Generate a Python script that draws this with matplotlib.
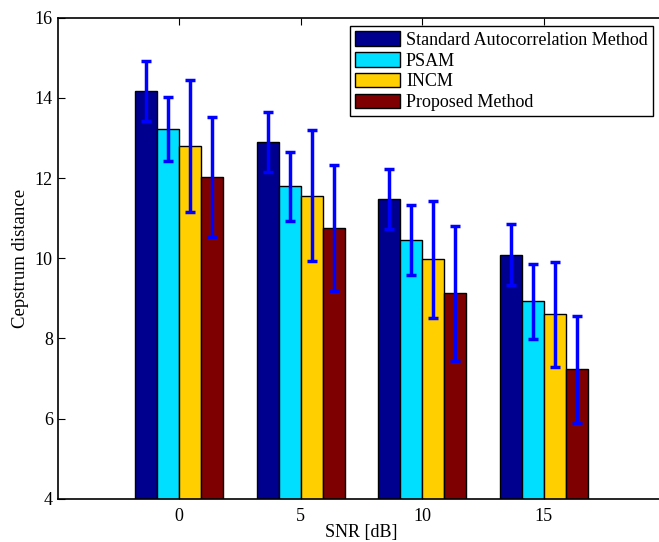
import numpy as np
import matplotlib
matplotlib.use('Agg')
import matplotlib.pyplot as plt

plt.rcParams['font.family'] = ['Liberation Serif', 'DejaVu Serif']

# SNR levels and mean cepstrum distance per method
snr_labels = ['0', '5', '10', '15']
methods = ['Standard Autocorrelation Method', 'PSAM', 'INCM', 'Proposed Method']

standard_mean = [14.17, 12.90, 11.48, 10.09]
psam_mean = [13.23, 11.79, 10.45, 8.92]
incm_mean = [12.80, 11.56, 9.97, 8.60]
proposed_mean = [12.02, 10.75, 9.12, 7.23]

# half-length of the error bars
standard_err = [0.74, 0.74, 0.74, 0.76]
psam_err = [0.80, 0.87, 0.88, 0.93]
incm_err = [1.65, 1.63, 1.45, 1.31]
proposed_err = [1.50, 1.57, 1.68, 1.33]

means = [standard_mean, psam_mean, incm_mean, proposed_mean]
errs = [standard_err, psam_err, incm_err, proposed_err]
colors = ['#00008F', '#00DFFF', '#FFCF00', '#7F0000']

fig = plt.figure(figsize=(6.59, 5.42), dpi=100)
# axis box runs past the right border of the image (no right spine visible)
ax = fig.add_axes([0.0876, 0.0799, 0.922, 0.8875])

x = np.arange(1, len(snr_labels) + 1)
n = len(methods)
group_w = n / (n + 1.5)
bar_w = group_w / n

for i in range(n):
    xpos = x - group_w / 2 + bar_w * (i + 0.5)
    ax.bar(xpos, means[i], width=bar_w, color=colors[i], edgecolor='black',
           linewidth=1.0, label=methods[i], zorder=2)
    ax.errorbar(xpos, means[i], yerr=errs[i], fmt='none', ecolor='#0000FF',
                elinewidth=2.5, capsize=3.5, capthick=2.5, zorder=3)

ax.set_xlim(0, 5)
ax.set_ylim(4, 16)
ax.set_xticks(x)
ax.set_xticklabels(snr_labels)
ax.set_yticks([4, 6, 8, 10, 12, 14, 16])
ax.tick_params(direction='in', length=5, width=0.8, labelsize=13, top=True,
               right=False)
ax.tick_params(axis='x', pad=6.5)
ax.tick_params(axis='y', pad=3.5)
for s in ax.spines.values():
    s.set_linewidth(1.2)

ax.set_xlabel('SNR [dB]', fontsize=13, labelpad=-0.5)
ax.set_ylabel('Cepstrum distance', fontsize=13.5, labelpad=4)

leg = ax.legend(loc='upper right', bbox_to_anchor=(0.991, 0.952),
                bbox_transform=fig.transFigure, borderaxespad=0,
                fancybox=False, framealpha=1, edgecolor='black',
                fontsize=13, handlelength=2.5, handleheight=0.85,
                handletextpad=0.3, labelspacing=0.18, borderpad=0.3)
leg.get_frame().set_linewidth(1.0)

fig.savefig('out.png', dpi=100)
